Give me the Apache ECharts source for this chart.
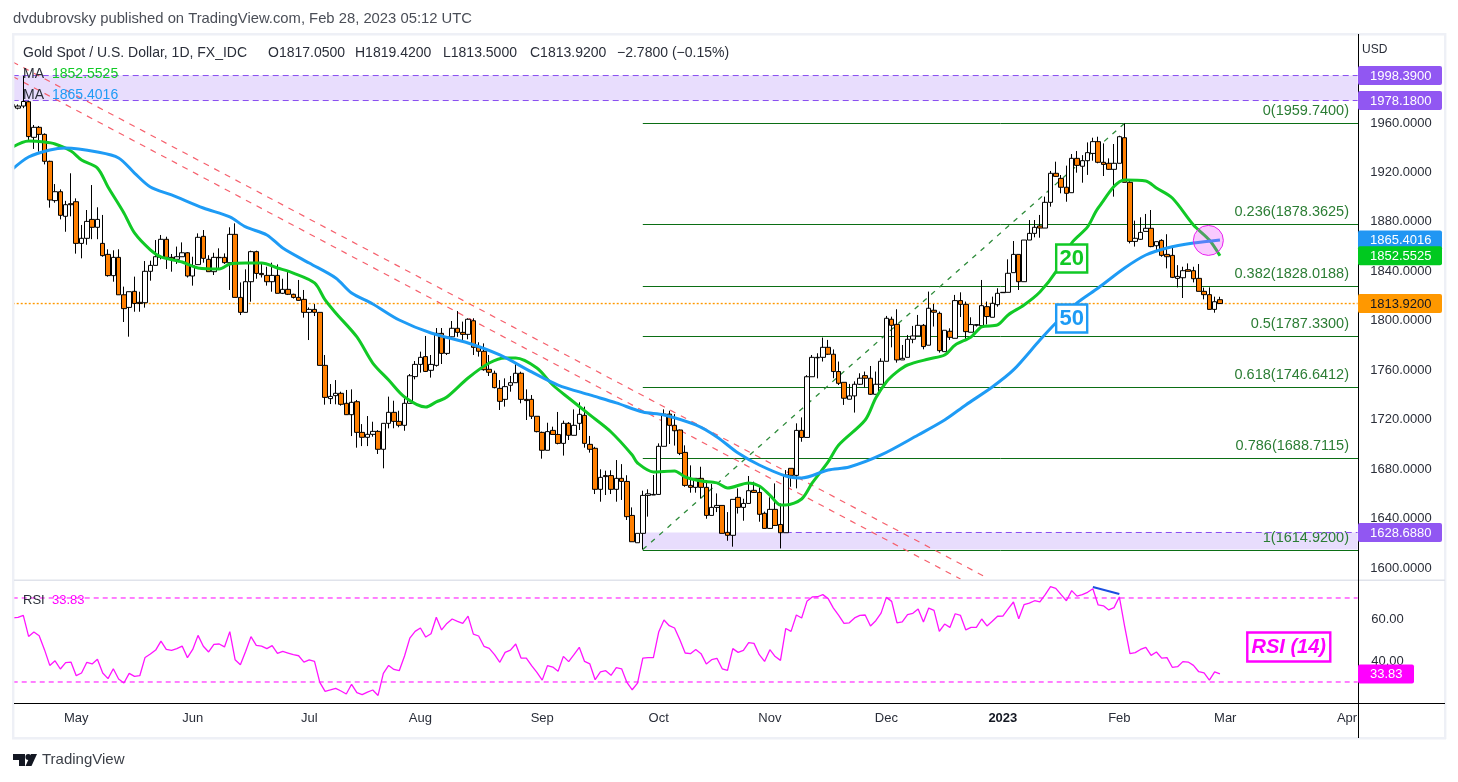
<!DOCTYPE html>
<html>
<head>
<meta charset="utf-8">
<title>Gold Spot / U.S. Dollar</title>
<script src="https://cdn.jsdelivr.net/npm/echarts@6/dist/echarts.min.js"></script>
<style>
  html, body { margin: 0; padding: 0; background: #fff; }
  #chart { width: 1458px; height: 782px; }
</style>
</head>
<body>
<div id="chart"></div>
<script>
// Daily bars, one per slot; slot 0 is the bar cut off by the left edge.
var opens = [
  1973,1972,1973.7,1977.2,1948.4,1956.5,1950.8,1929,1897.2,1904.4,
  1884.5,1894.7,1896.3,1862.6,1866.7,1882,1875.6,1862.6,1853.7,1836.5,
  1851.3,1821,1810.8,1823.8,1814.9,1814.6,1840,1844.8,1851.3,1865.9,
  1851.3,1849.7,1851.8,1855,1836.2,1845.4,1868.3,1849.7,1839.7,1851.3,
  1851.3,1847,1869.9,1818.9,1806.8,1831.6,1855.9,1838.3,1836.7,1831.6,
  1836.7,1822.2,1825.4,1821.4,1818.9,1817.3,1806.8,1809.2,1806.8,1763.9,
  1737,1739.4,1741.3,1733.2,1724,1734.5,1709.7,1705.7,1708.1,1710.5,
  1696,1717,1725.9,1718.6,1715.4,1733.2,1754.8,1764.7,1771,1759.9,
  1763.9,1789.8,1773.6,1787,1793.9,1790.6,1789,1800,1778.5,1775.3,
  1760.7,1757.5,1745.3,1736.4,1747.8,1749.9,1757.5,1736.4,1736.4,1722.7,
  1709.7,1695.2,1711.3,1708,1700.8,1717,1707.3,1717,1723.5,1700,
  1696.8,1663.6,1674.7,1674.7,1663.6,1672.5,1670,1642.5,1620.4,1628,
  1658.7,1659,1659.5,1698.4,1724.5,1715.4,1711.6,1693.5,1666.8,1665.2,
  1672.5,1665.2,1642.5,1649,1650.6,1628.8,1626.4,1657.1,1649,1652.2,
  1662.8,1661.1,1644.2,1632,1647.4,1635.2,1628.5,1680.6,1674.9,1711.3,
  1705.6,1754.7,1770,1770.4,1778.5,1772.9,1758.9,1750.2,1736.5,1739.2,
  1748.6,1755.6,1753.5,1740.5,1748.6,1767.2,1801.2,1797.1,1768.3,1770.4,
  1785,1787.7,1796.3,1780.2,1808.5,1806,1775,1791.5,1785.8,1816.3,
  1813.3,1790.7,1796.3,1796,1811.4,1802.8,1813,1822.7,1823,1838.9,
  1853.7,1831.6,1865.3,1870.7,1876.7,1875,1895.8,1919.3,1915.2,1908,
  1903.6,1931.4,1925,1929.5,1935.4,1944.9,1928.2,1927.4,1922.5,1927.4,
  1948.1,1912,1864.2,1865.9,1872.3,1874.8,1860.7,1865,1853.7,1852.9,
  1834.3,1834.8,1841.3,1840.5,1834.3,1823.8,1821.1,1809.2,1817.05
];
var highs = [
  1976,1975,1998,1978,1958.4,1957.6,1951.6,1929.5,1910.6,1906.3,
  1897,1919.3,1899,1877.5,1889.6,1909.8,1891.8,1885.6,1857.8,1857,
  1857.8,1827.6,1823.5,1835.7,1823.5,1848.3,1848.6,1865.3,1869.4,1868,
  1854,1860,1863.4,1855.5,1851.8,1870.7,1873.4,1853,1855,1858.6,
  1854.5,1875.6,1878.8,1831,1841.6,1856.7,1856.7,1846.4,1843.7,1847,
  1845.6,1834,1841,1821.9,1833,1824.9,1810.8,1813.5,1806.8,1772.3,
  1748.8,1752,1742.6,1744,1744.5,1735.9,1716.4,1722.9,1718.3,1711.5,
  1717,1738.6,1735.3,1727.2,1737.2,1756.9,1767.4,1775,1787.7,1772.3,
  1794.1,1794.1,1787,1799.8,1807.9,1799.3,1802,1802,1782.6,1781.7,
  1772.3,1759.6,1752,1753.4,1755.3,1765,1758.8,1744.5,1739.9,1722.7,
  1710.3,1717.5,1714.3,1726.2,1719.2,1718,1728.3,1734,1730.5,1706.8,
  1698,1679.8,1678.7,1679,1687.3,1684,1675,1649,1628,1662.5,
  1663.6,1675.2,1700.8,1728.3,1727.2,1724.5,1712,1699.2,1683,1672.5,
  1681.9,1671,1667.9,1660.3,1650.6,1645.2,1655.5,1664.4,1656,1674.4,
  1669.8,1667,1645.6,1657.1,1668.4,1652.2,1679.2,1680.6,1717,1721.8,
  1756,1772.3,1773.7,1786.4,1784.5,1776.8,1767,1750.2,1748.9,1751,
  1757.5,1758.9,1763.4,1758.9,1769.6,1803.9,1803.3,1809.3,1780.4,1788.5,
  1795.8,1804.7,1797.4,1823.6,1813.6,1807.4,1792.3,1793.9,1820.9,1823,
  1815.5,1802.8,1796.9,1833,1815.5,1819.5,1826.3,1823,1849.7,1864.5,
  1853.7,1865.3,1881.5,1881.5,1885.6,1900.4,1921.2,1928.7,1917.9,1925.5,
  1934.9,1937.3,1934,1944.3,1948.1,1948.9,1943.5,1931.4,1943,1949.7,
  1959.74,1913.9,1881,1883.7,1886.4,1889.6,1864,1866,1870,1860,
  1845,1843.7,1846.4,1843.7,1845.9,1826.8,1827,1819.5,1819.42
];
var lows = [
  1970,1971,1972,1944.6,1939,1936.8,1926.5,1891.5,1895.5,1882,
  1872,1884.5,1854.3,1850.5,1861.5,1866,1866,1851.8,1835.7,1831.6,
  1821,1799,1787.1,1807.3,1807.3,1810.6,1832.4,1844.8,1849.7,1841.9,
  1839.7,1846,1851.8,1835,1828.4,1845.4,1847,1839.7,1837,1841.6,
  1846,1824.9,1818.9,1804.6,1806.8,1815.4,1834,1835,1828.4,1823.5,
  1822.2,1821.6,1820.8,1818,1816.3,1802.5,1784.4,1803.8,1763.9,1732.1,
  1732.6,1732.4,1731.3,1723.8,1706.7,1697.3,1698.6,1698.6,1706.2,1692.2,
  1680.6,1712.9,1713,1713.8,1711,1733.2,1752.6,1758,1758.5,1754,
  1762.9,1765,1772.3,1785,1787,1783.9,1785,1772.3,1771,1759.6,
  1755.3,1745.3,1727.8,1730.5,1742.6,1749.9,1733.2,1719.7,1720.5,1709.7,
  1688.4,1695.2,1708,1700,1690.9,1703.5,1707.3,1711.6,1697.3,1693.3,
  1659.8,1653.6,1659,1659.8,1653.6,1655,1638.8,1621.2,1620.4,1614.92,
  1641.5,1659,1659.5,1698.4,1700.3,1699,1691.3,1665.7,1660.9,1660.9,
  1656.3,1639.8,1642.5,1645.2,1628,1622,1617.2,1644,1638.2,1652.2,
  1660.8,1637.4,1632,1631.5,1634,1615.8,1628.5,1665.7,1664.4,1702.1,
  1705.6,1754.7,1753.4,1767,1772.3,1753.5,1748,1731.9,1736.5,1725.7,
  1748,1746,1740,1740.5,1748.6,1767.2,1778.5,1766.1,1768.3,1770.4,
  1781.8,1787.7,1776.9,1780.2,1795.3,1774.2,1775,1784.5,1785.8,1803,
  1784.5,1790.7,1795.3,1796,1797,1802.8,1811.4,1822.7,1823,1838.9,
  1824.9,1831.6,1865.3,1867.5,1867.2,1875,1892.3,1916.5,1903.1,1896.3,
  1903.6,1919.8,1911.7,1918,1929.5,1927.4,1917.1,1922,1900.4,1927.4,
  1912,1862.6,1860,1865.4,1872.3,1859.5,1856.7,1851.8,1842.4,1834.5,
  1827,1818.4,1840,1831,1823.8,1817.3,1809.2,1806.5,1813.5
];
var closes = [
  1975,1973.7,1977.4,1949,1956.5,1950.8,1929,1897.7,1904.4,1885.3,
  1893.9,1893.9,1862.6,1866.7,1880.4,1875.6,1882,1852.7,1836.5,1851.3,
  1821,1809.8,1823.5,1814,1814,1840,1844.8,1851.8,1865.9,1851.3,
  1849.7,1851.8,1855,1836.2,1844.6,1867.5,1850.5,1839.7,1851.3,1851,
  1847,1869.9,1818.9,1806.8,1831.6,1855.9,1838.3,1837.3,1831.6,1836.7,
  1822.2,1825.4,1821.4,1818.9,1816.5,1806.8,1809.2,1806.8,1763.9,1738,
  1738.8,1741.3,1732.4,1724,1734,1709.7,1705.7,1708.1,1710.5,1696,
  1717,1725.9,1718.6,1715.4,1733.2,1755.5,1764.7,1770.4,1759,1764.7,
  1789.8,1773.6,1787,1793.9,1790.6,1789,1801.2,1778.5,1775.3,1760.4,
  1758.3,1745.9,1734.8,1746.7,1749.9,1757.5,1736.4,1735.4,1722.7,1710.3,
  1695.2,1710.3,1708,1700.8,1717,1707.3,1715.4,1724.3,1700.8,1696,
  1663.6,1673.3,1673.9,1663.6,1672.5,1670,1641.5,1621.2,1628,1658.7,
  1660,1659.5,1698.4,1724.5,1715.4,1711,1692.7,1666.8,1665.2,1672.5,
  1665.2,1642.5,1649,1650.6,1628,1626.4,1655.5,1649,1652.2,1662.5,
  1661.1,1643.4,1632,1647.4,1634.4,1628.5,1675.2,1674.9,1711.3,1705.6,
  1754.7,1770.4,1770.4,1778.5,1772.9,1758.9,1749.4,1737.3,1739.2,1748.6,
  1753.5,1753.5,1740.5,1748.6,1767.2,1802,1796.3,1768.3,1769.6,1785,
  1787.7,1796.3,1779.1,1810.1,1806.9,1775.8,1792.3,1786.6,1816.3,1813.3,
  1791.2,1796.9,1796.9,1812.2,1803.4,1814.1,1822.2,1823,1838.4,1853.7,
  1831.6,1865.3,1870.7,1875.6,1875,1895.8,1919.3,1916.8,1908,1903.1,
  1931.4,1925.7,1929.5,1936,1944.9,1928.2,1926.5,1922.5,1927.4,1948.9,
  1912,1864.2,1866.7,1871.5,1874.8,1860,1864,1852.9,1851.8,1835.1,
  1835.9,1840.5,1840,1834,1823.8,1821.1,1809.2,1815.4,1813.92
];

// Moving averages, read at the slots listed beside them.
var ma20Slots = [0,3,6,8,11,13,16,18,21,23,26,28,32,35,39,41,44,47,50,53,57,59,61,65,68,71,74,78,80,82,86,90,93,95,99,102,105,109,113,117,118,121,125,127,130,133,135,139,141,143,145,146,149,151,154,156,161,163,165,167,169,173,176,178,181,183,186,188,191,194,197,200,203,205,210,214,216,219,223,226,228];
var ma20Values = [1940.6,1945.4,1944.6,1943,1937.3,1930,1923.5,1908.2,1887.2,1871,1857.3,1851.6,1847.5,1842.7,1841.9,1845.9,1846.7,1846.7,1842.7,1838.6,1830.6,1816.8,1806.3,1786.9,1765.8,1752,1738.3,1730.2,1734.3,1738.3,1753.7,1765.8,1769.9,1769.9,1761.8,1748,1737.5,1723.8,1710,1691.4,1684.9,1677.7,1678.5,1673.6,1670.4,1668.8,1664.7,1668.8,1666.3,1659,1651,1651,1655.8,1668.8,1685.8,1699.5,1719.7,1737.5,1750.5,1758.6,1764.2,1769.1,1772.3,1780.4,1786.9,1795,1796.6,1804.7,1812.8,1823.3,1839.5,1862.9,1875.9,1891.2,1913.9,1913.1,1907.4,1899.3,1877.5,1865.3,1852.5525];
var ma50Slots = [0,3,7,10,16,20,23,26,30,36,41,44,48,51,56,61,64,68,73,79,86,92,98,103,109,114,119,123,129,133,137,141,146,149,154,158,164,171,176,180,185,189,194,197,201,205,210,214,218,223,228];
var ma50Values = [1922.8,1932.5,1938.2,1939.8,1936.5,1931.7,1919.5,1908.2,1901.8,1891.2,1884,1875.9,1869.4,1858.9,1846.7,1834.6,1822.5,1813.6,1800.6,1790.1,1782,1772.3,1758.6,1748,1740,1733.5,1726.2,1723.8,1715.7,1706,1693,1683.3,1674.4,1672.8,1679.3,1681.7,1691.4,1707.6,1719.7,1731.9,1746.4,1760.2,1784.4,1798.2,1814.4,1826.5,1842.7,1853.2,1858.9,1862.9,1865.4016];

// RSI (14), one value per slot.
var rsiValues = [
  60.5,60.8,61.7,51.7,53.8,52,45.4,37.9,40.1,36.2,
  39.2,39.5,33,34.3,39.4,38.6,40.8,34.3,31.6,36.3,
  31.4,29.5,34.1,32.7,33,41.7,43.3,45.2,49.5,45.5,
  45.1,45.9,47.1,41.6,45.5,52.2,47,44.3,47.9,48.1,
  46.7,54,40.6,38.2,44.6,51.6,47.4,47.1,45.9,47.3,
  43.6,44.6,43.8,43,42.5,39.5,40.5,39.8,29.8,25.5,
  26.2,27,25.7,24.3,28.9,24.9,24,25.2,26.2,23.6,
  34.1,37.9,36,35.4,42.4,50.9,54.1,55.7,51.4,53,
  60.8,54.8,57.9,60,58.9,57.9,61.4,52.8,51.9,47,
  46,43,39.4,44.1,45.2,48.1,41.4,41.4,37.8,34.6,
  30.9,37.8,37.1,35.1,42.2,39.7,43,46.5,39.8,38.6,
  31.1,34.8,35.4,33.2,36.8,36.3,29.8,26.3,29.5,41.4,
  41.6,41.6,53.8,59.5,56.8,55.7,50.1,43.8,43.5,45.5,
  43.5,38.6,40.6,41.3,36.3,35.5,
  45.9,44.1,45.1,48.7,48.4,43,39.8,45.4,42.1,40.3,
  55.5,54.1,61.9,60.5,68.4,70.5,70.6,71.6,69.7,65.2,
  61.7,57.9,58.2,60.5,61.7,61.9,56.7,59.2,62.8,70.3,
  68.4,58.2,58.6,62.1,62.7,64.8,58.6,65.2,64.1,54.1,
  57.6,56,62.5,61.7,54.8,56,56,60,56.7,58.9,
  61.3,61.4,64.8,68.1,60.1,66.8,67.6,68.7,68.1,71.6,
  75.4,74.6,71.6,68.7,73.5,70.9,71.6,72.7,74.4,66.7,
  66.3,64.3,65.4,70.5,56.5,43.5,44,45.5,46.5,42.7,
  44.3,41.4,41.6,37,37.3,39.7,39.5,37.9,34.9,34.3,
  30.9,34.8,33.83
];
var rsiBands = [70, 30];
var rsiDivergenceSlots = [204, 209];
var rsiDivergenceValues = [75.2, 71.9];

// Fibonacci retracement and drawn levels.
var fibRatios = ['0', '0.236', '0.382', '0.5', '0.618', '0.786', '1'];
var fibPrices = [1959.74, 1878.3625, 1828.0188, 1787.33, 1746.6412, 1688.7115, 1614.92];
var zoneTop = [1998.39, 1978.18];
var zoneBottom = [1628.688, 1614.92];
var trendA = [[0, 2009.4], [184, 1592]];
var trendB = [[0, 1997.6], [179, 1591]];
var fibDiagonal = [[119, 1614.92], [210, 1959.74]];
var lastPrice = 1813.92;

// Axis ticks.
var priceTicks = [1600, 1640, 1680, 1720, 1760, 1800, 1840, 1880, 1920, 1960];
var rsiTicks = [40, 60];
var monthSlots = [12, 34, 56, 77, 100, 122, 143, 165, 187, 209, 229, 252];
var monthLabels = ['May', 'Jun', 'Jul', 'Aug', 'Sep', 'Oct', 'Nov', 'Dec', '2023', 'Feb', 'Mar', 'Apr'];

// Price tags on the right axis.
var tagPrices = [1998.39, 1978.18, 1865.4016, 1852.5525, 1813.92, 1628.688];
var tagTexts = ['1998.3900', '1978.1800', '1865.4016', '1852.5525', '1813.9200', '1628.6880'];
var tagFills = ['#9157f2', '#9157f2', '#2196f3', '#00c91f', '#ff9800', '#9157f2'];
var tagInks = ['#fff', '#fff', '#fff', '#fff', '#131722', '#fff'];

var FONT = '"Liberation Sans", Arial, sans-serif';
var INK = '#2a2e39';
var SLOTS = 255;
var PANE_RIGHT = 1358;

var categories = [];
(function () {
    var d = new Date(Date.UTC(2022, 3, 14));
    while (categories.length < SLOTS) {
        if (d.getUTCDay() !== 0 && d.getUTCDay() !== 6) categories.push(d.toISOString().slice(0, 10));
        d.setUTCDate(d.getUTCDate() + 1);
    }
})();

function pairs(xs, ys) {
    var out = [];
    for (var i = 0; i < xs.length; i++) out.push([xs[i], ys[i]]);
    return out;
}

function lineSeries(points, color, width, type, z, pane) {
    return {
        type: 'line', data: points, xAxisIndex: pane || 0, yAxisIndex: pane || 0,
        showSymbol: false, silent: true, z: z, animation: false,
        lineStyle: { color: color, width: width, type: type }
    };
}

function level(v) { return [[0, v], [SLOTS - 1, v]]; }

function candleData() {
    var out = [];
    for (var i = 0; i < opens.length; i++) out.push([opens[i], closes[i], lows[i], highs[i]]);
    return out;
}

// Fib lines run from the anchor bar to the pane edge, label sits above the right end.
function fibSeries() {
    var data = [];
    for (var i = 0; i < fibPrices.length; i++) data.push([119, fibPrices[i]]);
    return {
        type: 'custom', data: data, z: 1, silent: true, animation: false, clip: false,
        renderItem: function (params, api) {
            var p = api.coord([api.value(0), api.value(1)]);
            var y = Math.round(p[1]) + 0.5;
            var price = fibPrices[params.dataIndex].toFixed(4);
            return {
                type: 'group',
                children: [
                    { type: 'line', shape: { x1: p[0], y1: y, x2: PANE_RIGHT, y2: y },
                      style: { stroke: '#0b6e14', lineWidth: 1 } },
                    { type: 'text', style: { x: 1349, y: y - 13, text: fibRatios[params.dataIndex] + '(' + price + ')',
                      fill: '#2b7d34', font: '14.5px ' + FONT, textAlign: 'right', textVerticalAlign: 'middle' } }
                ]
            };
        }
    };
}

function tagSeries(values, texts, fills, inks, width, pane) {
    var data = [];
    for (var i = 0; i < values.length; i++) data.push([0, values[i]]);
    return {
        type: 'custom', data: data, xAxisIndex: pane, yAxisIndex: pane, z: 20, silent: true,
        animation: false, clip: false,
        renderItem: function (params, api) {
            var y = api.coord([0, api.value(1)])[1];
            var k = params.dataIndex;
            return {
                type: 'group',
                children: [
                    { type: 'rect', shape: { x: PANE_RIGHT, y: y - 9.5, width: width, height: 19, r: 2 }, style: { fill: fills[k] } },
                    { type: 'text', style: { x: PANE_RIGHT + 12, y: y + 0.5, text: texts[k], fill: inks[k], font: '13px ' + FONT,
                      textAlign: 'left', textVerticalAlign: 'middle' } }
                ]
            };
        }
    };
}

// Boxed text notes anchored to a bar and a value.
function noteSeries(slot, value, text, color, w, h, font, pane) {
    return {
        type: 'custom', data: [[slot, value]], xAxisIndex: pane, yAxisIndex: pane, z: 15, silent: true,
        animation: false, clip: false,
        renderItem: function (params, api) {
            var p = api.coord([api.value(0), api.value(1)]);
            return {
                type: 'group',
                children: [
                    { type: 'rect', shape: { x: p[0] - w / 2, y: p[1] - h / 2, width: w, height: h },
                      style: { fill: '#fff', stroke: color, lineWidth: 2.4 } },
                    { type: 'text', style: { x: p[0], y: p[1] + 0.5, text: text, fill: color, font: font,
                      textAlign: 'center', textVerticalAlign: 'middle' } }
                ]
            };
        }
    };
}

function crossMarker(slot, value) {
    return {
        type: 'custom', data: [[slot, value]], z: 14, silent: true, animation: false, clip: false,
        renderItem: function (params, api) {
            var p = api.coord([api.value(0), api.value(1)]);
            return { type: 'circle', shape: { cx: p[0] - 1, cy: p[1], r: 15 },
                     style: { fill: 'rgba(234,64,251,0.28)', stroke: '#ea20f0', lineWidth: 1 } };
        }
    };
}

function txt(x, y, text, fill, size, extra) {
    var s = { x: x, y: y, text: text, fill: fill, font: (extra || '') + ' ' + size + 'px ' + FONT, textVerticalAlign: 'middle' };
    return { type: 'text', z: 30, style: s, silent: true };
}

function frameRect(x, y, w, h, fill, z) {
    return { type: 'rect', z: z || 6, shape: { x: x, y: y, width: w, height: h }, style: { fill: fill }, silent: true };
}

var option = {
    animation: false,
    backgroundColor: '#fff',
    grid: [
        { left: 10.06, width: 1350.2, top: 34, height: 546 },
        { left: 10.06, width: 1350.2, top: 580, height: 123 }
    ],
    xAxis: [
        { type: 'category', gridIndex: 0, data: categories, show: false },
        {
            type: 'category', gridIndex: 1, data: categories,
            axisLine: { lineStyle: { color: 'transparent' } }, axisTick: { show: false },
            axisLabel: {
                color: INK, fontFamily: FONT, fontSize: 13, margin: 9, hideOverlap: false,
                interval: function (index) { return monthSlots.indexOf(index) >= 0; },
                formatter: function (value, index) {
                    var t = monthLabels[monthSlots.indexOf(index)];
                    return t === '2023' ? '{b|2023}' : t;
                },
                rich: { b: { fontWeight: 'bold', color: '#131722', fontFamily: FONT, fontSize: 13 } }
            }
        }
    ],
    yAxis: [
        {
            type: 'value', gridIndex: 0, position: 'right', min: 1590.25, max: 2032, scale: true,
            splitLine: { show: false }, axisLine: { show: false }, axisTick: { show: false },
            axisLabel: {
                customValues: priceTicks, color: INK, fontFamily: FONT, fontSize: 13, margin: 10,
                padding: [2, 0, 0, 0],
                formatter: function (v) { return v.toFixed(4); }
            }
        },
        {
            type: 'value', gridIndex: 1, position: 'right', min: 20, max: 78.57, scale: true,
            splitLine: { show: false }, axisLine: { show: false }, axisTick: { show: false },
            axisLabel: {
                customValues: rsiTicks, color: INK, fontFamily: FONT, fontSize: 13, margin: 11,
                padding: [2, 0, 0, 0],
                formatter: function (v) { return v.toFixed(2); }
            }
        }
    ],
    series: [
        // zones sit under everything
        {
            type: 'line', data: [], z: 0, silent: true,
            markArea: {
                silent: true, animation: false, itemStyle: { color: '#e8ddfd' },
                data: [
                    [{ xAxis: 0, yAxis: zoneTop[0] }, { xAxis: SLOTS - 1, yAxis: zoneTop[1] }],
                    [{ xAxis: 119, yAxis: zoneBottom[0] }, { xAxis: SLOTS - 1, yAxis: zoneBottom[1] }]
                ]
            }
        },
        lineSeries(level(zoneTop[0]), '#8a4df0', 1, [6, 4], 1),
        lineSeries(level(zoneTop[1]), '#8a4df0', 1, [6, 4], 1),
        lineSeries([[146, zoneBottom[0]], [SLOTS - 1, zoneBottom[0]]], '#8a4df0', 1, [6, 4], 1),
        fibSeries(),
        lineSeries(fibDiagonal, '#2e8b3a', 1.3, [5, 6], 1),
        lineSeries(trendA, '#f6606d', 1.2, [6, 6], 1),
        lineSeries(trendB, '#f6606d', 1.2, [6, 6], 1),
        lineSeries(level(lastPrice), '#ff9800', 1.4, [2, 2], 2),
        {
            type: 'candlestick', data: candleData(), barWidth: 5, z: 5, silent: true, animation: false,
            itemStyle: { color: '#ffffff', color0: '#ff7f00', borderColor: '#000', borderColor0: '#000', borderWidth: 1 }
        },
        {
            type: 'line', data: pairs(ma20Slots, ma20Values), smooth: 0.3, showSymbol: false, silent: true, z: 6,
            lineStyle: { color: '#11c926', width: 3 }
        },
        {
            type: 'line', data: pairs(ma50Slots, ma50Values), smooth: 0.3, showSymbol: false, silent: true, z: 6,
            lineStyle: { color: '#1e9bf5', width: 3 }
        },
        crossMarker(226, 1865),
        noteSeries(200, 1850.4, '20', '#11c926', 31, 28, 'bold 22px ' + FONT, 0),
        noteSeries(200, 1801.8, '50', '#1e9bf5', 31, 28, 'bold 22px ' + FONT, 0),
        tagSeries(tagPrices, tagTexts, tagFills, tagInks, 84, 0),

        lineSeries(level(rsiBands[0]), '#ff00ff', 1, [5, 4], 2, 1),
        lineSeries(level(rsiBands[1]), '#ff00ff', 1, [5, 4], 2, 1),
        {
            type: 'line', data: rsiValues, xAxisIndex: 1, yAxisIndex: 1, showSymbol: false, silent: true, z: 5,
            lineStyle: { color: '#ff14ff', width: 1.3 }
        },
        lineSeries(pairs(rsiDivergenceSlots, rsiDivergenceValues), '#1c4fe0', 2, 'solid', 6, 1),
        noteSeries(241, 46.7, 'RSI (14)', '#ff00ff', 83, 29, 'italic bold 20px ' + FONT, 1),
        tagSeries([33.83], ['33.83'], ['#ff00ff'], ['#fff'], 56, 1)
    ],
    graphic: [
        // mask and pane furniture
        frameRect(0, 34, 13, 704, '#fff', 6),
        frameRect(12, 33, 2.4, 706, '#eef0f6', 7),
        frameRect(12, 33, 1434, 2.4, '#eef0f6', 7),
        frameRect(12, 737, 1434, 2.4, '#eef0f6', 7),
        frameRect(1444, 33, 2.4, 706, '#eef0f6', 7),
        frameRect(14, 579.5, 1431, 1.5, '#e0e3eb', 7),
        frameRect(14, 703, 1431, 1, '#000', 7),
        frameRect(1358, 34, 1, 704, '#000', 7),

        txt(13, 19, 'dvdubrovsky published on TradingView.com, Feb 28, 2023 05:12 UTC', '#4a4e57', 14.8),
        txt(23, 53, 'Gold Spot / U.S. Dollar, 1D, FX_IDC', INK, 14),
        txt(268, 53, 'O1817.0500', INK, 14),
        txt(355, 53, 'H1819.4200', INK, 14),
        txt(443, 53, 'L1813.5000', INK, 14),
        txt(530, 53, 'C1813.9200', INK, 14),
        txt(617, 53, '\u22122.7800 (\u22120.15%)', INK, 14),
        txt(23, 74, 'MA', INK, 14),
        txt(52, 74, '1852.5525', '#11c926', 14),
        txt(23, 95, 'MA', INK, 14),
        txt(52, 95, '1865.4016', '#1e9bf5', 14),
        txt(23, 600, 'RSI', INK, 13),
        txt(52, 600, '33.83', '#ff00ff', 13),
        txt(1362, 50, 'USD', INK, 12),
        txt(42, 760, 'TradingView', '#3c4048', 15),

        // logo
        { type: 'polygon', z: 30, shape: { points: [[13, 754], [25, 754], [25, 766], [19, 766], [19, 760], [13, 760]] }, style: { fill: '#131722' } },
        { type: 'circle', z: 30, shape: { cx: 28.3, cy: 757, r: 2.9 }, style: { fill: '#131722' } },
        { type: 'polygon', z: 30, shape: { points: [[31, 754], [37, 754], [31.5, 766], [25.5, 766]] }, style: { fill: '#131722' } }
    ]
};

var chart = echarts.init(document.getElementById('chart'), null, { renderer: 'canvas' });
chart.setOption(option);
</script>
</body>
</html>
